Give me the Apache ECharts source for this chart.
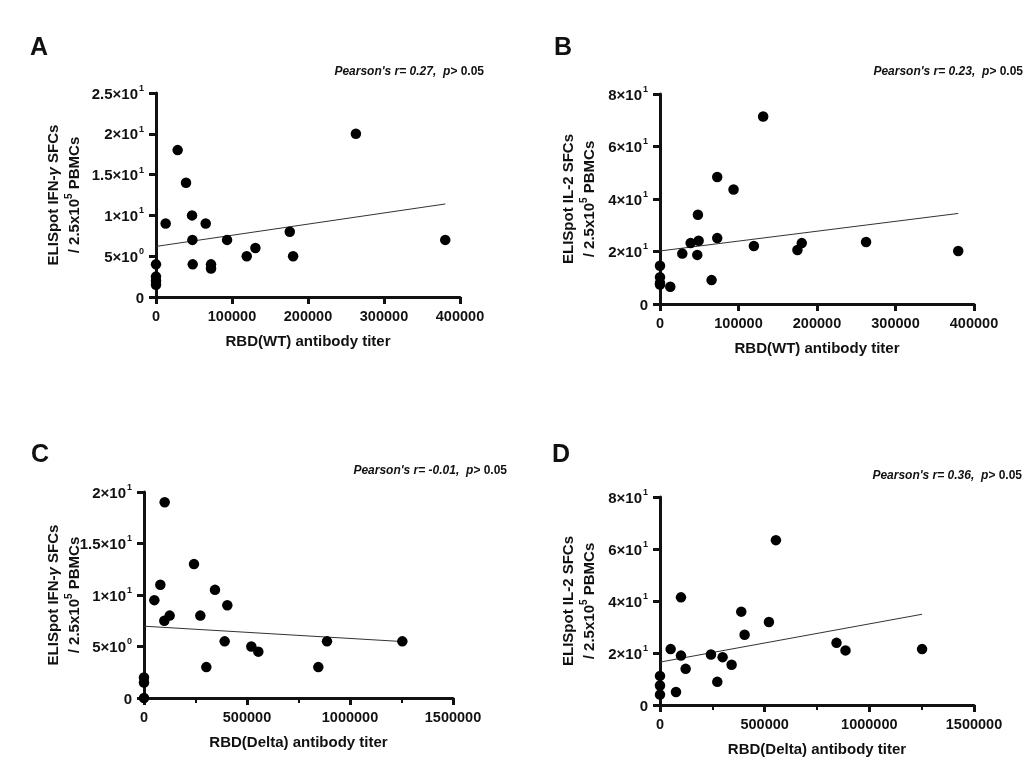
<!DOCTYPE html>
<html>
<head>
<meta charset="utf-8">
<script src="https://cdn.jsdelivr.net/npm/echarts@6/dist/echarts.min.js"></script>
<style>
html,body{margin:0;padding:0;background:#fff;}
#chart{width:1033px;height:768px;}
</style>
</head>
<body>
<div id="chart"></div>
<script>
// ---------- DATA ----------
// Panel A: RBD(WT) titer vs IFN-γ
const xA = [263000, 28500, 39500, 47400, 12700, 65400, 47900, 93500, 176000, 119400, 130800, 180400, 380600, 48300, 72400, 72400, 0, 0, 0, 0];
const yA = [20, 18, 14, 10, 9, 9, 7, 7, 8, 5, 6, 5, 7, 4, 4, 3.5, 4, 2.5, 2, 1.5];
const fitA = [[0, 6.2], [380600, 11.4]];
// Panel B: RBD(WT) titer vs IL-2
const xB = [131400, 72900, 93700, 48300, 39000, 49200, 72900, 28400, 47500, 119600, 175100, 180600, 262500, 379900, 65700, 13100, 0, 0, 0, 0];
const yB = [71.4, 48.4, 43.6, 34, 23.2, 24.1, 25.1, 19.2, 18.7, 22.1, 20.6, 23.2, 23.6, 20.2, 9.1, 6.6, 14.6, 10.2, 7.4, 8];
const fitB = [[0, 20.2], [379900, 34.5]];
// Panel C: RBD(Delta) titer vs IFN-γ
const xC = [100300, 242700, 79300, 50200, 344600, 404500, 273400, 124600, 98700, 391600, 521000, 555000, 302600, 846200, 888300, 1254000, 0, 0, 0];
const yC = [19, 13, 11, 9.5, 10.5, 9, 8, 8, 7.5, 5.5, 5, 4.5, 3, 3, 5.5, 5.5, 2, 1.5, 0];
const fitC = [[0, 6.97], [1254000, 5.48]];
// Panel D: RBD(Delta) titer vs IL-2
const xD = [553700, 100200, 388200, 520300, 404100, 843200, 886200, 1252000, 50900, 100200, 243400, 299100, 342100, 122500, 273700, 76400, 0, 0, 0];
const yD = [63.4, 41.4, 35.9, 31.9, 27, 23.9, 21, 21.5, 21.5, 19, 19.4, 18.4, 15.5, 13.9, 8.9, 5, 11.2, 7.5, 4];
const fitD = [[0, 16.5], [1252000, 34.9]];

// Tick labels ("mantissa×10^exp")
const yTicksA = ['0', '5×10^0', '1×10^1', '1.5×10^1', '2×10^1', '2.5×10^1'];
const yTicksB = ['0', '2×10^1', '4×10^1', '6×10^1', '8×10^1'];
const yTicksC = ['0', '5×10^0', '1×10^1', '1.5×10^1', '2×10^1'];
const yTicksD = ['0', '2×10^1', '4×10^1', '6×10^1', '8×10^1'];
const xTicksWT = ['0', '100000', '200000', '300000', '400000'];
const xTicksDelta = ['0', '500000', '1000000', '1500000'];

const panelLetters = ['A', 'B', 'C', 'D'];
const pearsonR = ['0.27', '0.23', '-0.01', '0.36'];
const pText = '0.05';
const xNames = ['RBD(WT) antibody titer', 'RBD(WT) antibody titer', 'RBD(Delta) antibody titer', 'RBD(Delta) antibody titer'];

// ---------- STYLE / LAYOUT ----------
const FONT = '"Liberation Sans", Arial, sans-serif';
const INK = '#111';
const grids = [
  {left: 156, top: 93, width: 304, height: 204},
  {left: 660, top: 94, width: 314, height: 210},
  {left: 144, top: 492, width: 309, height: 206},
  {left: 660, top: 497, width: 314, height: 208}
];
const yMax = [25, 80, 20, 80];
const yInt = [5, 20, 5, 20];
const xMax = [400000, 400000, 1500000, 1500000];
const xInt = [100000, 100000, 500000, 500000];
const yTickSets = [yTicksA, yTicksB, yTicksC, yTicksD];
const xTickSets = [xTicksWT, xTicksWT, xTicksDelta, xTicksDelta];
const yNameGap = [71, 60, 59, 60];
const yNameCytokine = ['IFN-', 'IL-2', 'IFN-', 'IL-2'];

function yLabelFmt(ticks, interval) {
  return function (v) {
    const s = ticks[Math.round(v / interval)];
    if (s === undefined) return '';
    const parts = s.split('^');
    if (parts.length === 1) return '{m|' + parts[0] + '}';
    return '{m|' + parts[0] + '}{e|' + parts[1] + '}';
  };
}
function xLabelFmt(ticks, interval) {
  return function (v) {
    const s = ticks[Math.round(v / interval)];
    return s === undefined ? '' : s;
  };
}
function yName(i) {
  if (yNameCytokine[i] === 'IFN-') {
    return '{n|ELISpot IFN-}{g|γ}{n| SFCs}\n{n|/ 2.5x10}{s|5}{n| PBMCs}';
  }
  return '{n|ELISpot IL-2 SFCs}\n{n|/ 2.5x10}{s|5}{n| PBMCs}';
}

const axisLineStyle = {color: INK, width: 3};
const tickStyle = {color: INK, width: 3};

const xAxes = [], yAxes = [], series = [], titles = [];
const xs = [xA, xB, xC, xD], ys = [yA, yB, yC, yD], fits = [fitA, fitB, fitC, fitD];

for (let i = 0; i < 4; i++) {
  const delta = i >= 2;
  xAxes.push({
    type: 'value', gridIndex: i, min: 0, max: xMax[i], interval: xInt[i],
    splitLine: {show: false},
    axisLine: {show: true, onZero: false, lineStyle: axisLineStyle},
    axisTick: {show: true, length: 7, lineStyle: tickStyle},
    minorTick: {show: delta, splitNumber: 2, length: 5, lineStyle: {color: INK, width: 2}},
    axisLabel: {
      formatter: xLabelFmt(xTickSets[i], xInt[i]), margin: 12,
      fontFamily: FONT, fontWeight: 'bold', fontSize: 14.5, color: INK
    },
    name: xNames[i], nameLocation: 'middle', nameGap: 37, nameMoveOverlap: false,
    nameTextStyle: {fontFamily: FONT, fontWeight: 'bold', fontSize: 15, color: INK}
  });
  yAxes.push({
    type: 'value', gridIndex: i, min: 0, max: yMax[i], interval: yInt[i],
    splitLine: {show: false},
    axisLine: {show: true, onZero: false, lineStyle: axisLineStyle},
    axisTick: {show: true, length: 7, lineStyle: tickStyle},
    axisLabel: {
      formatter: yLabelFmt(yTickSets[i], yInt[i]), margin: 12,
      rich: {
        m: {fontFamily: FONT, fontWeight: 'bold', fontSize: 15, color: INK, lineHeight: 18, verticalAlign: 'bottom'},
        e: {fontFamily: FONT, fontWeight: 'bold', fontSize: 9, color: INK, lineHeight: 18, verticalAlign: 'top', padding: [0, 0, 0, 1]}
      }
    },
    name: yName(i), nameLocation: 'middle', nameGap: yNameGap[i], nameRotate: 90,
    nameMoveOverlap: false,
    nameTextStyle: {
      color: INK, lineHeight: 21,
      rich: {
        n: {fontFamily: FONT, fontWeight: 'bold', fontSize: 15, color: INK, lineHeight: 21},
        g: {fontFamily: FONT, fontWeight: 'bold', fontStyle: 'italic', fontSize: 15, color: INK, lineHeight: 21},
        s: {fontFamily: FONT, fontWeight: 'bold', fontSize: 10, color: INK, lineHeight: 21, verticalAlign: 'top'}
      }
    }
  });
  series.push({
    type: 'scatter', xAxisIndex: i, yAxisIndex: i, clip: false,
    symbol: 'circle', symbolSize: 10.5, itemStyle: {color: '#000', opacity: 1},
    emphasis: {disabled: true},
    data: xs[i].map((x, k) => [x, ys[i][k]]), z: 5
  });
  series.push({
    type: 'line', xAxisIndex: i, yAxisIndex: i, clip: false,
    symbol: 'none', lineStyle: {color: '#333', width: 1}, data: fits[i], z: 4
  });
}

const letterPos = [{left: 30, top: 36}, {left: 554, top: 36}, {left: 31, top: 443}, {left: 552, top: 443}];
const pearsonPos = [{right: 549, top: 66}, {right: 10, top: 66}, {right: 526, top: 465}, {right: 11, top: 470}];
for (let i = 0; i < 4; i++) {
  titles.push(Object.assign({
    text: panelLetters[i],
    textStyle: {fontFamily: FONT, fontWeight: 'bold', fontSize: 25, color: INK},
    padding: 0
  }, letterPos[i]));
  titles.push(Object.assign({
    text: "{i|Pearson's r= " + pearsonR[i] + ",  p>}{n| " + pText + '}',
    padding: 0,
    textStyle: {
      rich: {
        i: {fontFamily: FONT, fontWeight: 'bold', fontStyle: 'italic', fontSize: 12, color: INK},
        n: {fontFamily: FONT, fontWeight: 'bold', fontSize: 12, color: INK}
      }
    }
  }, pearsonPos[i]));
}

const chart = echarts.init(document.getElementById('chart'), null, {renderer: 'canvas'});
chart.setOption({
  backgroundColor: '#fff',
  animation: false,
  title: titles,
  grid: grids,
  xAxis: xAxes,
  yAxis: yAxes,
  series: series
});
</script>
</body>
</html>
